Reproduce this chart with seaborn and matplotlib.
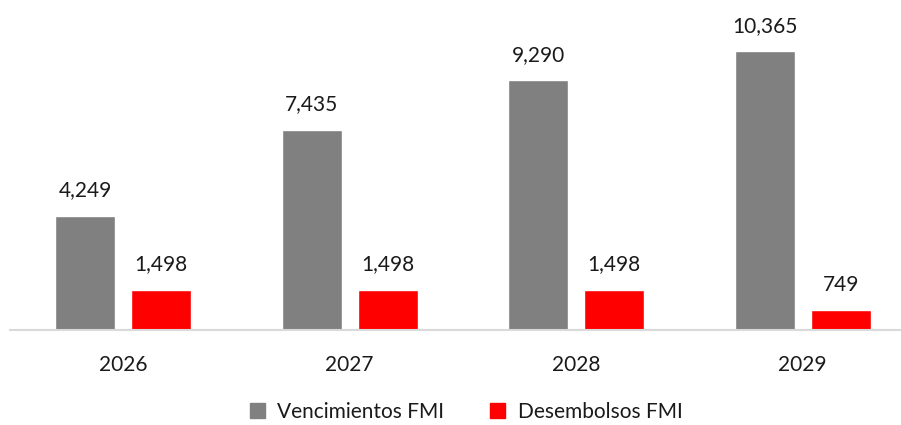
import matplotlib
matplotlib.use("Agg")
import matplotlib.pyplot as plt
import seaborn as sns
import pandas as pd

years = ["2026", "2027", "2028", "2029"]
vencimientos = [4249, 7435, 9290, 10365]
desembolsos = [1498, 1498, 1498, 749]
series_names = ["Vencimientos FMI", "Desembolsos FMI"]
colors = ["#808080", "#ff0000"]

df = pd.DataFrame({
    "Año": years * 2,
    "Valor": vencimientos + desembolsos,
    "Serie": [series_names[0]] * len(years) + [series_names[1]] * len(years),
})

sns.set_theme(style="white")
plt.rcParams["font.family"] = ["Lato", "DejaVu Sans"]

W, H = 901, 425
fig = plt.figure(figsize=(W / 100, H / 100), dpi=100)
ax = fig.add_axes([10 / W, (H - 330) / H, 890 / W, 320 / H])

sns.barplot(data=df, x="Año", y="Valor", hue="Serie", palette=colors,
            width=0.671, gap=0.21, ax=ax, legend=False, saturation=1)

for cont in ax.containers:
    ax.bar_label(cont, labels=[f"{v:,.0f}" for v in cont.datavalues],
                 padding=11, fontsize=15, color="#1a1a1a")

ax.set_xlim(-0.5, 3.43)
ax.set_ylim(0, 11888)
ax.set_xlabel("")
ax.set_ylabel("")
ax.set_yticks([])
for s in ["top", "right", "left"]:
    ax.spines[s].set_visible(False)
ax.spines["bottom"].set_color("#d9d9d9")
ax.spines["bottom"].set_linewidth(1.5)
ax.tick_params(axis="x", length=0, pad=18, labelsize=15, labelcolor="#1a1a1a")

from matplotlib.patches import Patch
handles = [Patch(facecolor=c, edgecolor=c) for c in colors]
fig.legend(handles, series_names, loc="center", bbox_to_anchor=(466 / W, 1 - 412 / H),
           ncol=2, frameon=False, fontsize=15, handlelength=0.72, handleheight=0.72,
           handletextpad=0.6, columnspacing=2.2, labelcolor="#1a1a1a")

fig.savefig("out.png", dpi=100)
